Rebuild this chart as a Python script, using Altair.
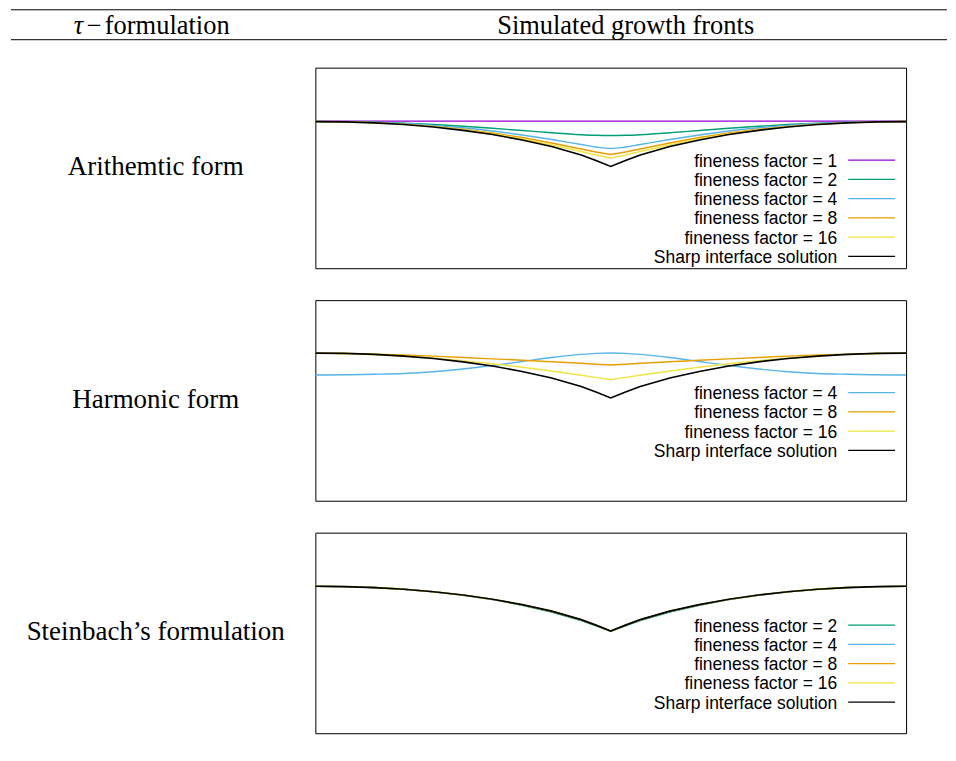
import altair as alt
import pandas as pd

# ---------------- data ----------------
X = [0.0, 0.05, 0.1, 0.15, 0.2, 0.25, 0.3, 0.35, 0.4, 0.45, 0.475, 0.5,
     0.525, 0.55, 0.6, 0.65, 0.7, 0.75, 0.8, 0.85, 0.9, 0.95, 1.0]

SHARP = [0.0, -0.004, -0.013, -0.03, -0.055, -0.088, -0.13, -0.185, -0.25, -0.335, -0.39, -0.45,
         -0.39, -0.335, -0.25, -0.185, -0.13, -0.088, -0.055, -0.03, -0.013, -0.004, 0.0]

# Arithmetic form
A_FF1 = [0.004, 0.004, 0.004, 0.004, 0.004, 0.004, 0.004, 0.004, 0.004, 0.004, 0.004, 0.004,
         0.004, 0.004, 0.004, 0.004, 0.004, 0.004, 0.004, 0.004, 0.004, 0.004, 0.004]
A_FF2 = [0.0, -0.002, -0.007, -0.016, -0.03, -0.048, -0.068, -0.09, -0.113, -0.132, -0.138, -0.14,
         -0.138, -0.132, -0.113, -0.09, -0.068, -0.048, -0.03, -0.016, -0.007, -0.002, 0.0]
A_FF4 = [0.0, -0.003, -0.009, -0.02, -0.038, -0.063, -0.095, -0.135, -0.18, -0.23, -0.255, -0.27,
         -0.255, -0.23, -0.18, -0.135, -0.095, -0.063, -0.038, -0.02, -0.009, -0.003, 0.0]
A_FF8 = [0.0, -0.003, -0.011, -0.026, -0.048, -0.078, -0.115, -0.16, -0.215, -0.275, -0.305, -0.33,
         -0.305, -0.275, -0.215, -0.16, -0.115, -0.078, -0.048, -0.026, -0.011, -0.003, 0.0]
A_FF16 = [0.0, -0.0035, -0.012, -0.028, -0.051, -0.083, -0.124, -0.175, -0.235, -0.30, -0.335, -0.365,
          -0.335, -0.30, -0.235, -0.175, -0.124, -0.083, -0.051, -0.028, -0.012, -0.0035, 0.0]

# Harmonic form
H_FF4 = [-0.22, -0.218, -0.213, -0.205, -0.187, -0.16, -0.125, -0.085, -0.045, -0.013, -0.003, 0.0,
         -0.003, -0.013, -0.045, -0.085, -0.125, -0.16, -0.187, -0.205, -0.213, -0.218, -0.22]
H_FF8 = [0.0, -0.004, -0.011, -0.02, -0.031, -0.044, -0.058, -0.072, -0.087, -0.103, -0.112, -0.12,
         -0.112, -0.103, -0.087, -0.072, -0.058, -0.044, -0.031, -0.02, -0.011, -0.004, 0.0]
H_FF16 = [0.0, -0.005, -0.015, -0.03, -0.05, -0.076, -0.107, -0.142, -0.18, -0.222, -0.244, -0.267,
          -0.244, -0.222, -0.18, -0.142, -0.107, -0.076, -0.05, -0.03, -0.015, -0.005, 0.0]

# Steinbach's formulation
S_FF2 = [0.0, -0.004, -0.013, -0.03, -0.056, -0.09, -0.134, -0.19, -0.258, -0.343, -0.396, -0.45,
         -0.396, -0.343, -0.258, -0.19, -0.134, -0.09, -0.056, -0.03, -0.013, -0.004, 0.0]
S_FF4 = [0.0, -0.004, -0.013, -0.03, -0.055, -0.089, -0.132, -0.187, -0.253, -0.338, -0.392, -0.45,
         -0.392, -0.338, -0.253, -0.187, -0.132, -0.089, -0.055, -0.03, -0.013, -0.004, 0.0]
S_FF8 = [0.0, -0.004, -0.013, -0.03, -0.055, -0.088, -0.131, -0.186, -0.251, -0.336, -0.39, -0.45,
         -0.39, -0.336, -0.251, -0.186, -0.131, -0.088, -0.055, -0.03, -0.013, -0.004, 0.0]
S_FF16 = [0.0, -0.004, -0.013, -0.03, -0.055, -0.088, -0.13, -0.185, -0.25, -0.335, -0.39, -0.45,
          -0.39, -0.335, -0.25, -0.185, -0.13, -0.088, -0.055, -0.03, -0.013, -0.004, 0.0]

LABELS = ["fineness factor = 1", "fineness factor = 2", "fineness factor = 4",
          "fineness factor = 8", "fineness factor = 16", "Sharp interface solution"]
COLORS = ["#9400D3", "#009E73", "#56B4E9", "#E69F00", "#F0E442", "#000000"]

ROW_TITLES = ["Arithemtic form", "Harmonic form", "Steinbach\u2019s formulation"]
HEAD_SYM = "\u03c4"
HEAD_MINUS = "\u2212"
HEAD_LEFT = "formulation"
HEAD_RIGHT = "Simulated growth fronts"

PW, PH = 592, 201


def panel(series, ydom):
    layers = []
    for label, ys, interp in series:
        i = LABELS.index(label)
        df = pd.DataFrame({"x": X, "y": ys})
        sw = 1.7 if label.startswith("Sharp") else 1.4
        layers.append(
            alt.Chart(df).mark_line(color=COLORS[i], strokeWidth=sw, interpolate=interp).encode(
                x=alt.X("x:Q", scale=alt.Scale(domain=[0, 1], nice=False, zero=False), axis=None),
                y=alt.Y("y:Q", scale=alt.Scale(domain=ydom, nice=False, zero=False), axis=None),
            )
        )
    leg = pd.DataFrame({
        "label": [s[0] for s in series],
        "color": [COLORS[LABELS.index(s[0])] for s in series],
        "idx": list(range(len(series))),
    })
    yleg = alt.Y("idx:Q", scale=alt.Scale(domain=[0, 5], range=[92.7, 189.2], nice=False, zero=False), axis=None)
    text = alt.Chart(leg).mark_text(align="right", baseline="alphabetic", dy=6.5,
                                    font="Liberation Sans", fontSize=17.5, color="black").encode(
        x=alt.value(523), y=yleg, text="label:N")
    rule = alt.Chart(leg).mark_rule(strokeWidth=1.3).encode(
        x=alt.value(534), x2=alt.value(581), y=yleg, color=alt.Color("color:N", scale=None))
    return alt.layer(*layers, text, rule).resolve_scale(y="independent").properties(width=PW, height=PH)


def label_chart(t):
    return alt.Chart(pd.DataFrame({"t": [t]})).mark_text(
        font="Liberation Serif", fontSize=27, baseline="alphabetic", align="center", color="black"
    ).encode(text="t:N", x=alt.value(147), y=alt.value(108)).properties(
        width=294, height=PH, view=alt.ViewBackground(stroke="transparent"))


def head_text(t, x, align, style="normal"):
    return alt.Chart(pd.DataFrame({"t": [t]})).mark_text(
        font="Liberation Serif", fontSize=26.5, fontStyle=style, align=align, baseline="alphabetic", color="black"
    ).encode(text="t:N", x=alt.value(x), y=alt.value(24))


one = pd.DataFrame({"a": [0]})
header = alt.layer(
    alt.Chart(one).mark_rule(color="black", strokeWidth=1).encode(x=alt.value(2), x2=alt.value(940), y=alt.value(0)),
    alt.Chart(one).mark_rule(color="black", strokeWidth=1).encode(x=alt.value(2), x2=alt.value(940), y=alt.value(30)),
    head_text(HEAD_SYM, 65, "left", "italic"),
    head_text(HEAD_MINUS, 78, "left"),
    head_text(HEAD_LEFT, 96, "left"),
    head_text(HEAD_RIGHT, 618, "center"),
).properties(width=940, height=30, view=alt.ViewBackground(stroke="transparent"))

row1 = alt.hconcat(
    label_chart(ROW_TITLES[0]),
    panel([(LABELS[0], A_FF1, "linear"), (LABELS[1], A_FF2, "monotone"), (LABELS[2], A_FF4, "monotone"),
           (LABELS[3], A_FF8, "linear"), (LABELS[4], A_FF16, "linear"), (LABELS[5], SHARP, "linear")],
          [-1.47, 0.54]),
    spacing=8,
)
row2 = alt.hconcat(
    label_chart(ROW_TITLES[1]),
    panel([(LABELS[2], H_FF4, "monotone"), (LABELS[3], H_FF8, "linear"),
           (LABELS[4], H_FF16, "linear"), (LABELS[5], SHARP, "linear")],
          [-1.48, 0.53]),
    spacing=8,
)
row3 = alt.hconcat(
    label_chart(ROW_TITLES[2]),
    panel([(LABELS[1], S_FF2, "linear"), (LABELS[2], S_FF4, "linear"), (LABELS[3], S_FF8, "linear"),
           (LABELS[4], S_FF16, "linear"), (LABELS[5], SHARP, "linear")],
          [-1.473, 0.537]),
    spacing=8,
)

chart = alt.vconcat(
    header,
    alt.vconcat(row1, row2, row3, spacing=30),
    spacing=26,
).properties(padding=0, background="white").configure_view(stroke="black", strokeWidth=1)

chart.save("out.html", embed_options={"renderer": "svg", "actions": False})
